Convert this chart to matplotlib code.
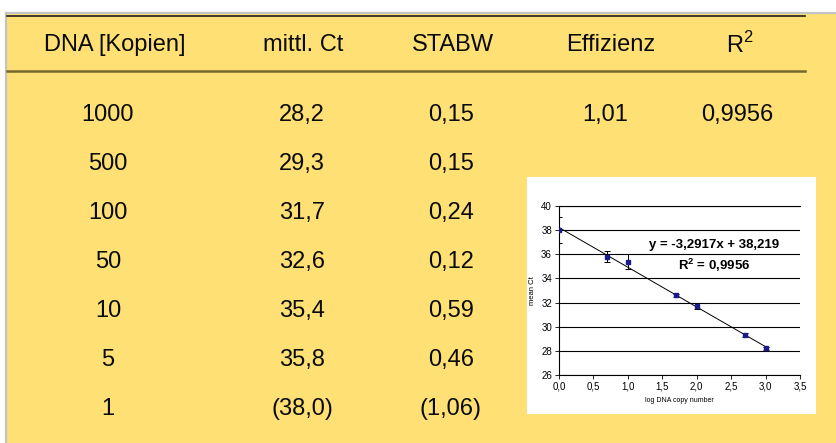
import numpy as np
import matplotlib
matplotlib.use("Agg")
import matplotlib.pyplot as plt
from matplotlib.patches import Rectangle
from matplotlib.lines import Line2D
from matplotlib.ticker import FuncFormatter, MultipleLocator

plt.rcParams['font.family'] = ['Liberation Sans', 'DejaVu Sans']
plt.rcParams['mathtext.fontset'] = 'custom'
plt.rcParams['mathtext.rm'] = 'Liberation Sans'
plt.rcParams['mathtext.bf'] = 'Liberation Sans:bold'

# Table contents
headers = ["DNA [Kopien]", "mittl. Ct", "STABW", "Effizienz", "R$^{2}$"]
copies = ["1000", "500", "100", "50", "10", "5", "1"]
mean_ct = ["28,2", "29,3", "31,7", "32,6", "35,4", "35,8", "(38,0)"]
stabw = ["0,15", "0,15", "0,24", "0,12", "0,59", "0,46", "(1,06)"]
effizienz = ["1,01"]
r_squared = ["0,9956"]

# Standard curve values
copy_numbers = [1000, 500, 100, 50, 10, 5, 1]
ct_values = [28.2, 29.3, 31.7, 32.6, 35.4, 35.8, 38.0]
ct_sd = [0.15, 0.15, 0.24, 0.12, 0.59, 0.46, 1.06]
slope = -3.2917
intercept = 38.219

W, H = 837, 443
fig = plt.figure(figsize=(W / 100, H / 100), dpi=100)
fig.patch.set_facecolor("white")


def fx(px):
    return px / W


def fy(py):
    return 1 - py / H


# yellow panel with grey border
fig.patches.append(Rectangle((fx(6), 0), 1 - fx(6), fy(13), transform=fig.transFigure,
                             facecolor="#FEE074", edgecolor="none", zorder=0))
fig.lines.append(Line2D([fx(6), 1], [fy(12.5), fy(12.5)], transform=fig.transFigure,
                        color="#C4C4C4", lw=1.6))
fig.lines.append(Line2D([fx(6.5), fx(6.5)], [0, fy(12.5)], transform=fig.transFigure,
                        color="#C4C4C4", lw=1.6))
# header rules
fig.lines.append(Line2D([fx(7), fx(805)], [fy(15.5), fy(15.5)], transform=fig.transFigure,
                        color="#1E1E1E", lw=1.2))
fig.lines.append(Line2D([fx(7), fx(805)], [fy(71), fy(71)], transform=fig.transFigure,
                        color="#75692E", lw=1.8))

fs = 17
header_x = [115, 303, 453, 611, 740]
col_x = [108, 302, 451, 605, 737]
header_y = 45
row_y = [115, 164, 213, 262, 311, 360, 409]

for x, h in zip(header_x, headers):
    fig.text(fx(x), fy(header_y), h, ha="center", va="center", fontsize=fs, color="#0A0A0A")

columns = [copies, mean_ct, stabw, effizienz, r_squared]
for x, col in zip(col_x, columns):
    for y, val in zip(row_y, col):
        fig.text(fx(x), fy(y), val, ha="center", va="center", fontsize=fs, color="#0A0A0A")

# white inset background
fig.patches.append(Rectangle((fx(527), fy(414)), fx(816) - fx(527), fy(177) - fy(414),
                             transform=fig.transFigure, facecolor="white",
                             edgecolor="none", zorder=1))

ax = fig.add_axes([fx(559), fy(375), fx(800) - fx(559), fy(206) - fy(375)], zorder=2)
ax.set_facecolor("white")
logx = np.log10(copy_numbers)
ax.set_xlim(0, 3.5)
ax.set_ylim(26, 40)
ax.yaxis.set_major_locator(MultipleLocator(2))
ax.xaxis.set_major_locator(MultipleLocator(0.5))
ax.grid(axis="y", color="black", lw=0.8)
ax.set_axisbelow(True)

xf = np.array([0, 3.0])
ax.plot(xf, slope * xf + intercept, color="black", lw=0.7, zorder=3)
ax.errorbar(logx, ct_values, yerr=ct_sd, fmt="s", ms=2.5, color="#1A1A8C",
            ecolor="black", elinewidth=0.7, capsize=2, capthick=0.7, zorder=4)

comma = FuncFormatter(lambda v, p: f"{v:.1f}".replace(".", ","))
ax.xaxis.set_major_formatter(comma)
ax.yaxis.set_major_formatter(FuncFormatter(lambda v, p: f"{v:.0f}"))
ax.tick_params(labelsize=7, length=3, width=0.6, pad=2)
ax.spines["right"].set_visible(False)
for s in ax.spines.values():
    s.set_linewidth(0.8)
ax.set_ylabel("mean Ct", fontsize=5.5, labelpad=4)
ax.set_xlabel("log DNA copy number", fontsize=5, labelpad=4)

ax.text(2.25, 36.8, "y = -3,2917x + 38,219", ha="center", va="center",
        fontsize=9.5, fontweight="bold")
ax.text(2.25, 35.1, "R$^{\\mathbf{2}}$ = 0,9956", ha="center", va="center",
        fontsize=9.5, fontweight="bold")

fig.savefig("out.png", dpi=100)
